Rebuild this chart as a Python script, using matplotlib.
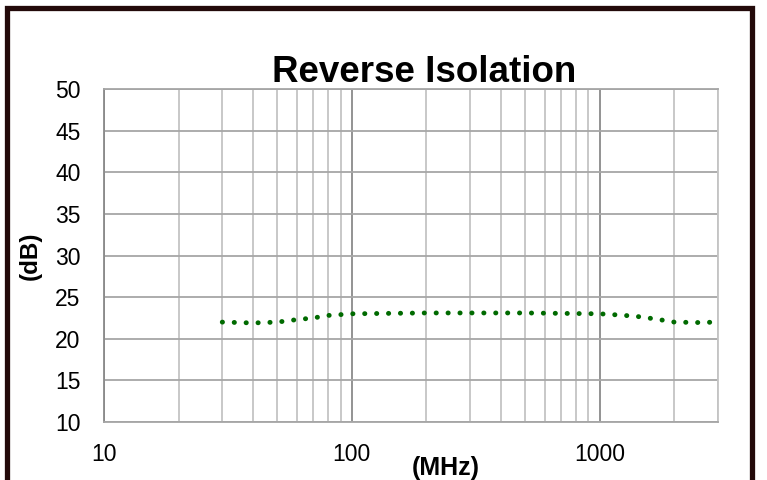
import matplotlib.pyplot as plt
from matplotlib.patches import Rectangle
from matplotlib.ticker import FixedLocator, NullFormatter

plt.rcParams['font.family'] = ['Liberation Sans', 'DejaVu Sans']

# === Veri ===
freq_mhz = [30, 40, 50, 60, 70, 80, 90, 100, 200, 300, 500, 700,
            1000, 1200, 1400, 1700, 2000, 2500, 3000]
isolation_db = [22.0, 21.9, 22.0, 22.3, 22.5, 22.8, 22.9, 23.0, 23.1, 23.1, 23.1, 23.05,
                23.0, 22.85, 22.7, 22.35, 22.0, 21.95, 22.0]
x_ticks = [10, 100, 1000]
x_tick_labels = ["10", "100", "1000"]
y_ticks = [10, 15, 20, 25, 30, 35, 40, 45, 50]

fig = plt.figure(figsize=(7.67, 4.8), dpi=100)
ax = fig.add_axes([0.1356, 0.1208, 0.8005, 0.6938])

ax.plot(freq_mhz, isolation_db, color="#006a00", lw=3.5,
        linestyle=(0, (0.05, 2.4)), dash_capstyle="round", zorder=3)

ax.set_xscale("log")
ax.set_xlim(10, 3000)
ax.set_ylim(10, 50)

ax.xaxis.set_major_locator(FixedLocator(x_ticks))
ax.set_xticklabels(x_tick_labels)
minor = [m * d for d in (10, 100, 1000) for m in range(2, 10) if m * d <= 3000]
ax.xaxis.set_minor_locator(FixedLocator(minor))
ax.xaxis.set_minor_formatter(NullFormatter())
ax.set_yticks(y_ticks)

ax.grid(True, which="major", axis="x", color="#8a8a8a", lw=1.3)
ax.grid(True, which="minor", axis="x", color="#c4c4c4", lw=1.3)
ax.grid(True, which="major", axis="y", color="#a6a6a6", lw=1.3)
ax.tick_params(which="both", length=0, labelsize=16.5)
ax.tick_params(axis="y", pad=17)
ax.tick_params(axis="x", pad=15)

for s in ax.spines.values():
    s.set_color("#a6a6a6")
    s.set_linewidth(1.3)
ax.spines["left"].set_color("#8a8a8a")
ax.spines["right"].set_color("#c4c4c4")

fig.text(424 / 767, 1 - 82 / 480, "Reverse Isolation", ha="center", va="baseline",
         fontsize=26.5, fontweight="bold")
fig.text(446 / 767, 1 - 475 / 480, "(MHz)", ha="center", va="baseline",
         fontsize=18, fontweight="bold")
fig.text(30 / 767, 1 - 256 / 480, "(dB)", ha="center", va="center", rotation=90,
         fontsize=17.5, fontweight="bold")

# dış çerçeve
fig.patches.append(Rectangle((6.5 / 767, -0.05), 745.5 / 767, 1.05 - 8 / 480,
                             transform=fig.transFigure, fill=False,
                             edgecolor="#230a0a", lw=3.8))

fig.savefig("out.png", dpi=100)
